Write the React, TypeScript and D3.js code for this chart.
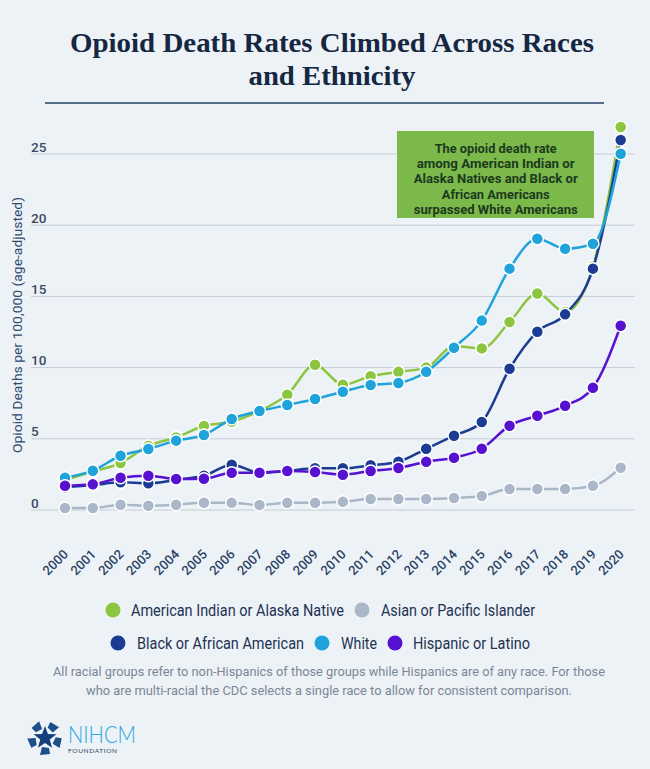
import React from "react";
import * as d3 from "d3";

const years = [2000, 2001, 2002, 2003, 2004, 2005, 2006, 2007, 2008, 2009, 2010, 2011, 2012, 2013, 2014, 2015, 2016, 2017, 2018, 2019, 2020];
const aian = [2.1, 2.7, 3.3, 4.5, 5.1, 5.9, 6.2, 6.95, 8.1, 10.2, 8.8, 9.4, 9.7, 10.0, 11.5, 11.35, 13.2, 15.2, 13.9, 17.1, 26.9];
const asian = [0.14, 0.14, 0.37, 0.3, 0.37, 0.51, 0.51, 0.35, 0.51, 0.51, 0.58, 0.77, 0.77, 0.77, 0.84, 0.98, 1.47, 1.47, 1.47, 1.7, 2.97];
const black = [1.6, 1.75, 1.94, 1.87, 2.12, 2.4, 3.18, 2.62, 2.74, 2.93, 2.93, 3.14, 3.39, 4.3, 5.22, 6.18, 9.92, 12.52, 13.74, 16.95, 25.98];
const white = [2.27, 2.76, 3.81, 4.28, 4.87, 5.27, 6.39, 6.95, 7.37, 7.8, 8.31, 8.78, 8.92, 9.71, 11.4, 13.3, 16.95, 19.05, 18.35, 18.7, 25.02];
const hispanic = [1.7, 1.8, 2.27, 2.41, 2.18, 2.2, 2.62, 2.62, 2.74, 2.67, 2.48, 2.74, 2.95, 3.39, 3.67, 4.3, 5.92, 6.62, 7.32, 8.59, 12.94];
const seriesNames = ["American Indian or Alaska Native", "Asian or Pacific Islander", "Black or African American", "White", "Hispanic or Latino"];
const yTicks = [0, 5, 10, 15, 20, 25];

const colors = ["#8cc540", "#aab7c8", "#1b3c92", "#1fa3db", "#5711d0"];
const seriesValues = [aian, asian, black, white, hispanic];

const titleLines = ["Opioid Death Rates Climbed Across Races", "and Ethnicity"];
const noteLines = [
  "The opioid death rate",
  "among American Indian or",
  "Alaska Natives and Black or",
  "African Americans",
  "surpassed White Americans",
];
const footLines = [
  "All racial groups refer to non-Hispanics of those groups while Hispanics are of any race. For those",
  "who are multi-racial the CDC selects a single race to allow for consistent comparison.",
];

// layout (positions only)
const legendLayout = [
  { cx: 113, cy: 610, tx: 131, len: 213 },
  { cx: 362, cy: 610, tx: 381, len: 154 },
  { cx: 118, cy: 643, tx: 137, len: 167 },
  { cx: 322, cy: 643, tx: 341, len: 36 },
  { cx: 395, cy: 643, tx: 413, len: 117 },
];
const noteLens = [122, 158, 164, 108, 164];
const footLens = [552, 486];

export default function App() {
  const W = 650, H = 769;
  const x = d3.scalePoint<number>().domain(years).range([65, 620.7]);
  const y = d3.scaleLinear().domain([0, 25]).range([510, 154]);
  const line = d3
    .line<number>()
    .x((_, i) => x(years[i]) as number)
    .y((d) => y(d))
    .curve(d3.curveMonotoneX);

  const starPts = d3.range(10).map((i) => {
    const r = i % 2 === 0 ? 12 : 5;
    const a = -Math.PI / 2 + (i * Math.PI) / 5;
    return [45 + r * Math.cos(a), 738 + r * Math.sin(a)];
  });

  return (
    <svg width={W} height={H} style={{ position: "absolute", left: 0, top: 0, background: "#edf2f7" }}>
      <rect width={W} height={H} fill="#edf2f7" />
      {titleLines.map((t, i) => (
        <text
          key={t}
          x={332}
          y={52 + i * 33}
          textAnchor="middle"
          fontFamily="'Liberation Serif', serif"
          fontWeight={700}
          fontSize={27.5}
          fill="#152741"
          textLength={i === 0 ? 524 : 167}
          lengthAdjust="spacingAndGlyphs"
        >
          {t}
        </text>
      ))}
      <line x1={45} x2={604} y1={103} y2={103} stroke="#566d8a" strokeWidth={2} />

      {yTicks.map((t) => (
        <g key={t}>
          <line x1={31} x2={635} y1={y(t)} y2={y(t)} stroke="#c5ccd7" strokeWidth={1} />
          <text x={31} y={y(t) - 2.5} fontFamily="Roboto, sans-serif" fontWeight={500} fontSize={13.5} fill="#3b4a5f">
            {t}
          </text>
        </g>
      ))}
      <text
        transform={`translate(22,325) rotate(-90)`}
        textAnchor="middle"
        fontFamily="Roboto, sans-serif"
        fontSize={13.5}
        fill="#2d4a6d"
        textLength={256}
        lengthAdjust="spacingAndGlyphs"
      >
        Opioid Deaths per 100,000 (age-adjusted)
      </text>

      {years.map((yr) => (
        <text
          key={yr}
          transform={`translate(${(x(yr) as number) + 4},555) rotate(-45)`}
          textAnchor="end"
          fontFamily="Roboto, sans-serif"
          fontWeight={500}
          fontSize={13}
          fill="#2b4466"
        >
          {yr}
        </text>
      ))}

      {seriesValues.map((vals, s) => (
        <g key={s}>
          <path d={line(vals) || ""} fill="none" stroke={colors[s]} strokeWidth={2.5} />
          {vals.map((v, i) => (
            <circle key={i} cx={x(years[i]) as number} cy={y(v)} r={6} fill={colors[s]} stroke="#ffffff" strokeWidth={1.5} />
          ))}
        </g>
      ))}

      <rect x={397} y={131} width={197} height={87} fill="#7cb94b" />
      {noteLines.map((t, i) => (
        <text
          key={t}
          x={495.7}
          y={152.5 + i * 15.4}
          textAnchor="middle"
          fontFamily="Roboto, sans-serif"
          fontWeight={700}
          fontSize={13}
          fill="#1c3a1d"
          textLength={noteLens[i]}
          lengthAdjust="spacingAndGlyphs"
        >
          {t}
        </text>
      ))}

      {seriesNames.map((n, i) => (
        <g key={n}>
          <circle cx={legendLayout[i].cx} cy={legendLayout[i].cy} r={7.5} fill={colors[i]} />
          <text
            x={legendLayout[i].tx}
            y={legendLayout[i].cy + 5.5}
            fontFamily="Roboto, sans-serif"
            fontSize={16}
            fill="#1d3352"
            textLength={legendLayout[i].len}
            lengthAdjust="spacingAndGlyphs"
          >
            {n}
          </text>
        </g>
      ))}

      {footLines.map((t, i) => (
        <text
          key={i}
          x={329}
          y={676 + i * 18.5}
          textAnchor="middle"
          fontFamily="Roboto, sans-serif"
          fontSize={13.5}
          fill="#7b8796"
          textLength={footLens[i]}
          lengthAdjust="spacingAndGlyphs"
        >
          {t}
        </text>
      ))}

      <g>
        {d3.range(5).map((k) => {
          const a = -Math.PI / 2 + (k * 2 * Math.PI) / 5 + Math.PI / 5;
          const cx = 45 + 13 * Math.cos(a);
          const cy = 738 + 13 * Math.sin(a);
          return (
            <path
              key={k}
              transform={`translate(${cx},${cy}) rotate(${(a * 180) / Math.PI + 90})`}
              d="M-5,-3 L5,-4 L3,4 L-4,3 Z"
              fill="#1d4f8a"
            />
          );
        })}
        <polygon points={starPts.map((p) => p.join(",")).join(" ")} fill="#173f7c" />
      </g>
      <text x={68} y={743} fontFamily="Lato, sans-serif" fontWeight={300} fontSize={23} fill="#2aa8df" textLength={68} lengthAdjust="spacingAndGlyphs">
        NIHCM
      </text>
      <text x={68} y={753} fontFamily="Lato, sans-serif" fontSize={6.5} fill="#2c3e5a" textLength={49} lengthAdjust="spacing">
        FOUNDATION
      </text>
    </svg>
  );
}
